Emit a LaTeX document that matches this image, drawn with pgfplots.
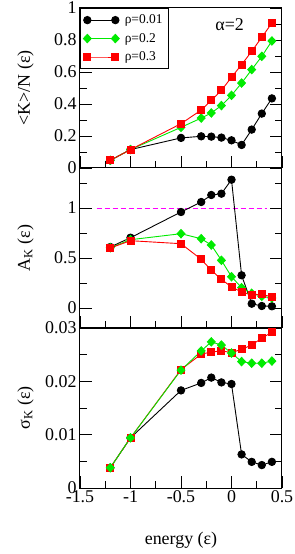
\documentclass[border=0pt]{standalone}
\usepackage{fontspec}
\setmainfont{Liberation Serif}
\usepackage{pgfplots}
\pgfplotsset{compat=1.18}
\definecolor{mygreen}{RGB}{0,235,0}
\definecolor{myred}{RGB}{255,0,0}
\definecolor{mymag}{RGB}{255,0,255}
\begin{document}
\begin{tikzpicture}
\pgfplotsset{
 panel/.style={
  scale only axis, width=202bp, height=160bp,
  xmin=-1.5, xmax=0.5,
  xtick={-1.5,-1,-0.5,0,0.5},
  minor xtick={-1.25,-0.75,-0.25,0.25},
  xtick pos=left, ytick pos=both, tick align=inside,
  major tick length=12bp, minor tick length=6.5bp,
  every tick/.style={black, line width=0.8bp},
  every minor tick/.style={black, line width=0.8bp},
  axis line style={line width=1bp},
  tick label style={font=\fontsize{18}{20}\selectfont},
  label style={font=\fontsize{18}{20}\selectfont},
  ylabel style={at={(axis description cs:-0.27,0.5)}, anchor=center},
  scaled ticks=false,
  clip=false,
 },
 sblack/.style={black, line width=0.9bp, mark=*, mark size=3.7bp, mark options={solid, fill=black}},
 sgreen/.style={mygreen, line width=0.9bp, mark=diamond*, mark size=4.2bp, mark options={solid, fill=mygreen, xscale=1.25}},
 sred/.style={myred, line width=0.9bp, mark=square*, mark size=3.5bp, mark options={solid, fill=myred}},
}
% bottom panel
\begin{axis}[panel, at={(0,0)}, anchor=south west,
  ymin=0, ymax=0.03,
  ytick={0,0.01,0.02,0.03}, yticklabels={0,0.01,0.02,0.03},
  minor ytick={0.005,0.015,0.025},
  xticklabels={-1.5,-1,-0.5,0,0.5},
  xticklabel style={inner sep=2.5bp},
  ylabel={σ\textsubscript{K} (ε)},
  xlabel={energy (ε)},
  xlabel style={at={(axis description cs:0.5,-0.325)}, anchor=center},
]
\addplot[sblack] coordinates {(-1.2,0.0038) (-1,0.0094) (-0.5,0.0183) (-0.3,0.0197) (-0.2,0.0207) (-0.1,0.0198) (0,0.0195) (0.1,0.0063) (0.2,0.0049) (0.3,0.0043) (0.4,0.0049)};
\addplot[sred] coordinates {(-1.2,0.0038) (-1,0.0094) (-0.5,0.0222) (-0.3,0.0251) (-0.2,0.0255) (-0.1,0.0257) (0,0.0254) (0.1,0.0260) (0.2,0.0268) (0.3,0.0281) (0.4,0.0292)};
\addplot[sgreen] coordinates {(-1.2,0.0038) (-1,0.0094) (-0.5,0.0221) (-0.3,0.0257) (-0.2,0.0274) (-0.1,0.0268) (0,0.0253) (0.1,0.0237) (0.2,0.0234) (0.3,0.0234) (0.4,0.0238)};
\end{axis}
% middle panel
\begin{axis}[panel, at={(0,160bp)}, anchor=south west,
  ymin=-0.2, ymax=1.4,
  ytick={0,0.5,1}, yticklabels={0,0.5,1},
  minor ytick={0.25,0.75,1.25},
  xticklabels={},
  ylabel={A\textsubscript{K} (ε)},
]
\addplot[mymag, line width=0.9bp, dash pattern=on 5bp off 3bp] coordinates {(-1.335,1) (0.35,1)};
\addplot[sblack] coordinates {(-1.2,0.61) (-1,0.703) (-0.5,0.96) (-0.3,1.06) (-0.2,1.13) (-0.1,1.143) (0,1.283) (0.1,0.327) (0.2,0.043) (0.3,0.02) (0.4,0.017)};
\addplot[sgreen] coordinates {(-1.2,0.603) (-1,0.683) (-0.5,0.743) (-0.3,0.693) (-0.2,0.63) (-0.1,0.477) (0,0.313) (0.1,0.203) (0.2,0.147) (0.3,0.117) (0.4,0.1)};
\addplot[sred] coordinates {(-1.2,0.6) (-1,0.673) (-0.5,0.643) (-0.3,0.487) (-0.2,0.377) (-0.1,0.287) (0,0.21) (0.1,0.16) (0.2,0.13) (0.3,0.137) (0.4,0.11)};
\end{axis}
% top panel
\begin{axis}[panel, at={(0,320bp)}, anchor=south west,
  ymin=0, ymax=1,
  ytick={0,0.2,0.4,0.6,0.8,1}, yticklabels={0,0.2,0.4,0.6,0.8,1},
  minor ytick={0.1,0.3,0.5,0.7,0.9},
  xticklabels={},
  ylabel={<K>/N (ε)},
  legend style={at={(0,1)}, anchor=north west, draw=black, line width=0.8bp,
    font=\fontsize{13.5}{15}\selectfont, inner xsep=3bp, inner ysep=4bp,
    row sep=3bp, column sep=3bp, nodes={inner sep=2.5bp}},
  legend cell align=left,
  legend image code/.code={\draw[mark repeat=2, mark phase=1, #1] plot coordinates {(0bp,0bp) (14bp,0bp) (28bp,0bp)};},
]
\addplot[sblack] coordinates {(-1.2,0.048) (-1,0.115) (-0.5,0.188) (-0.3,0.198) (-0.2,0.196) (-0.1,0.19) (0,0.173) (0.1,0.144) (0.2,0.24) (0.3,0.34) (0.4,0.435)};
\addlegendentry{ρ=0.01}
\addplot[sgreen] coordinates {(-1.2,0.048) (-1,0.115) (-0.5,0.254) (-0.3,0.312) (-0.2,0.344) (-0.1,0.39) (0,0.454) (0.1,0.531) (0.2,0.615) (0.3,0.698) (0.4,0.794)};
\addlegendentry{ρ=0.2}
\addplot[sred] coordinates {(-1.2,0.048) (-1,0.115) (-0.5,0.277) (-0.3,0.362) (-0.2,0.423) (-0.1,0.485) (0,0.567) (0.1,0.646) (0.2,0.729) (0.3,0.817) (0.4,0.906)};
\addlegendentry{ρ=0.3}
\node[font=\fontsize{18}{20}\selectfont] at (axis cs:-0.018,0.896) {α=2};
\end{axis}
\pgfresetboundingbox
\useasboundingbox (-80bp,-66bp) rectangle (215bp,488bp);
\end{tikzpicture}
\end{document}
